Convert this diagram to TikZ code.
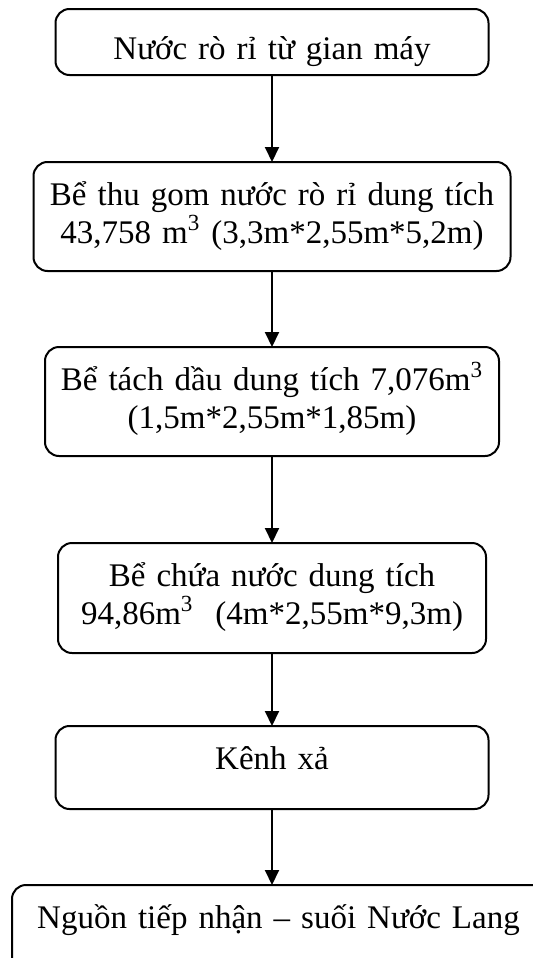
\documentclass[tikz,border=0pt]{standalone}
\usepackage{fontspec}
\setmainfont{Liberation Serif}
\usetikzlibrary{arrows.meta,positioning}

\begin{document}
\begin{tikzpicture}
 \tikzset{buoc node/.style={rectangle, draw, line width=1pt,
 		rounded corners=7pt, inner sep=0pt, outer sep=0pt,
 		align=center, font=\fontsize{16.5pt}{19pt}\selectfont,
 		text height=21.5pt}, }
 \tikzset{linea/.style={line width=1pt, -{Triangle[width=7pt,length=7.5pt]}},}
 \clip (0,0) rectangle (266.5pt,-479pt);
 \node[buoc node, anchor=north, text width=216.5pt,
 	text height=25pt, text depth=8pt] (1) at (136pt,-4.5pt)
 	{Nước rò rỉ từ gian máy};
 \node[buoc node, text width=238.5pt, text depth=33pt] (2)[below=43.5pt of 1]
 	{Bể thu gom nước rò rỉ dung tích\\43,758 m\textsuperscript{3} (3,3m*2,55m*5,2m)};
 \node[buoc node, text width=227pt, text depth=33pt] (3)[below=38pt of 2]
 	{Bể tách dầu dung tích 7,076m\textsuperscript{3}\\(1,5m*2,55m*1,85m)};
 \node[buoc node, text width=214pt, text depth=33.5pt] (4)[below=43.5pt of 3]
 	{Bể chứa nước dung tích\\94,86m\textsuperscript{3}~ (4m*2,55m*9,3m)};
 \node[buoc node, text width=216.5pt, text depth=20pt] (5)[below=36.5pt of 4]
 	{Kênh xả};
 \node[buoc node, text width=266.5pt, text depth=28.5pt] (6)[below=38pt of 5, xshift=3.25pt]
 	{Nguồn tiếp nhận – suối Nước Lang};
 \foreach \x /\y in{1/2,2/3,3/4,4/5}
 \draw[linea] (\x) -- (\y);
 \draw[linea] (5.south) -- (5.south |- 6.north);
% %%
\end{tikzpicture}
\end{document}
